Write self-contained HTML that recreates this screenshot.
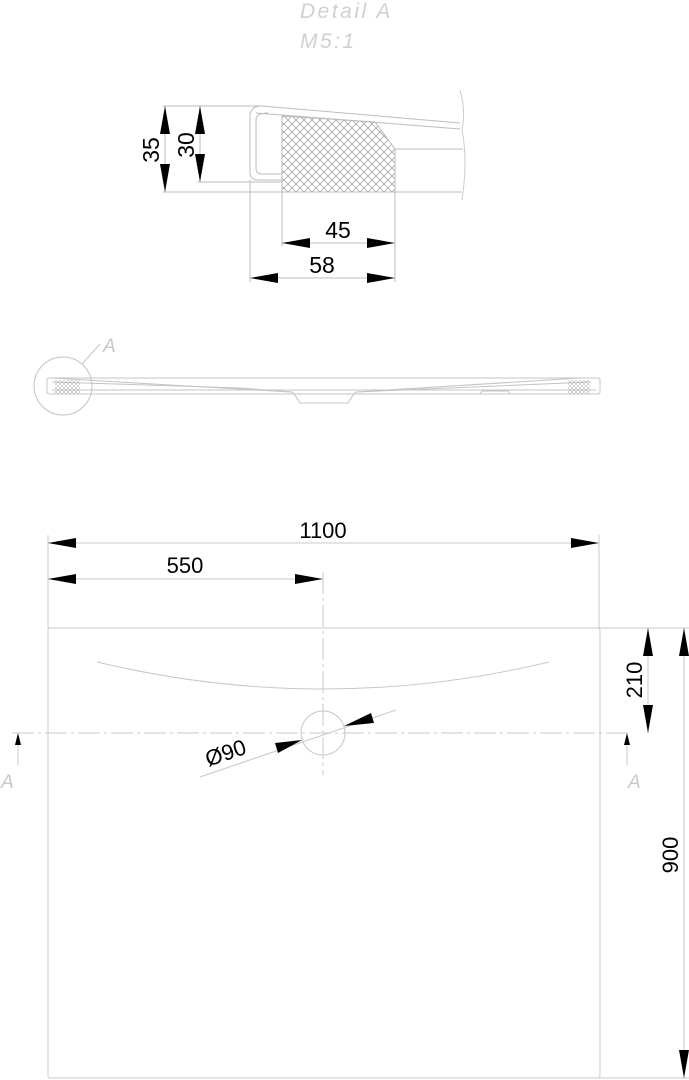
<!DOCTYPE html>
<html><head><meta charset="utf-8"><style>
html,body{margin:0;padding:0;background:#fff;}
svg{display:block;}
text{font-family:"Liberation Sans",sans-serif;}
</style></head><body>
<svg width="689" height="1080" viewBox="0 0 689 1080" xmlns="http://www.w3.org/2000/svg">
<defs>
<pattern id="h" width="8" height="8" patternUnits="userSpaceOnUse">
<path d="M0 0L8 8M8 0L0 8" stroke="#9a9a9a" stroke-width="0.7"/>
</pattern>
<pattern id="h2" width="4" height="4" patternUnits="userSpaceOnUse">
<path d="M0 0L4 4M4 0L0 4" stroke="#aaa" stroke-width="0.5"/>
</pattern>
</defs>
<text x="300" y="18" font-size="21" font-style="italic" fill="#d0d0d0" letter-spacing="2.5">Detail  A</text>
<text x="300" y="48" font-size="21" font-style="italic" fill="#d0d0d0" letter-spacing="2.5">M5:1</text>

<!-- detail A -->
<g fill="none" stroke="#bdbdbd" stroke-width="1">
<line x1="163" y1="106" x2="262" y2="106"/>
<line x1="163" y1="192" x2="462" y2="192"/>
<line x1="198" y1="182" x2="282" y2="182"/>
<path d="M262 106 L460 123 M256 113 L460 129"/>
<path d="M262 106 Q250 106 250 116 L250 172 Q250 180 258 180 L282 180"/>
<path d="M268 113 Q256 113 256 120 L256 168 Q256 174 262 174 L282 174"/>
<line x1="395" y1="149" x2="463" y2="149"/>
<path d="M460 90 Q466 110 462 130 Q468 160 462 200" stroke="#ccc"/>
<line x1="250" y1="180" x2="250" y2="282"/>
<line x1="282" y1="192" x2="282" y2="246"/>
<line x1="395" y1="192" x2="395" y2="282"/>
<line x1="165" y1="106" x2="165" y2="192"/>
<line x1="200" y1="106" x2="200" y2="182"/>
<line x1="282" y1="243" x2="395" y2="243"/>
<line x1="250" y1="278" x2="395" y2="278"/>
</g>
<path d="M282 116 L375 122 L395 149 L395 192 L282 192 Z" fill="url(#h)" stroke="#bbb" stroke-width="1"/>
<g fill="#000">
<polygon points="165,106 160,134 170,134"/><polygon points="165,192 160,164 170,164"/>
<polygon points="200,106 195,134 205,134"/><polygon points="200,182 195,154 205,154"/>
<polygon points="282,243 310,238 310,248"/><polygon points="395,243 367,238 367,248"/>
<polygon points="250,278 278,273 278,283"/><polygon points="395,278 367,273 367,283"/>
</g>
<text x="0" y="0" font-size="23" transform="translate(159,150) rotate(-90)" text-anchor="middle">35</text>
<text x="0" y="0" font-size="23" transform="translate(194,145) rotate(-90)" text-anchor="middle">30</text>
<text x="338" y="238" font-size="23" text-anchor="middle">45</text>
<text x="322" y="273" font-size="23" text-anchor="middle">58</text>

<!-- side view -->
<g fill="none" stroke="#c4c4c4" stroke-width="1">
<circle cx="63" cy="386" r="29"/>
<line x1="82" y1="364" x2="100" y2="344"/>
<rect x="47" y="378" width="553" height="16" rx="2"/>
<path d="M52 382 L240 388 L292 392 Q296 396 300 403 L348 403 Q352 396 356 392 L590 382"/>
<path d="M52 378 L170 385 L292 392 M356 392 L580 378"/>
<line x1="52" y1="390" x2="596" y2="390"/>
<path d="M480 394 L482 391 L508 391 L510 394"/>
</g>
<rect x="55" y="380" width="25" height="14" fill="url(#h2)"/>
<rect x="568" y="380" width="22" height="14" fill="url(#h2)"/>
<text x="103" y="352" font-size="19" font-style="italic" fill="#c8c8c8">A</text>

<!-- plan -->
<g fill="none" stroke="#c8c8c8" stroke-width="1">
<rect x="48" y="628" width="552" height="450" rx="2"/>
<line x1="48" y1="535" x2="48" y2="628"/>
<line x1="599" y1="535" x2="599" y2="628"/>
<line x1="48" y1="543" x2="599" y2="543"/>
<line x1="48" y1="579" x2="323" y2="579"/>
<line x1="323" y1="572" x2="323" y2="775" stroke-dasharray="22,4,3,4"/>
<line x1="12" y1="733" x2="630" y2="733" stroke-dasharray="22,4,3,4"/>
<path d="M97 662 Q323 716 549 662"/>
<circle cx="323" cy="733" r="22"/>
<line x1="200" y1="777" x2="396" y2="710"/>
<line x1="598" y1="628" x2="689" y2="628"/>
<line x1="598" y1="1078" x2="689" y2="1078"/>
<line x1="648" y1="628" x2="648" y2="733"/>
<line x1="684" y1="628" x2="684" y2="1078"/>
<line x1="18" y1="745" x2="18" y2="765"/>
<line x1="627" y1="745" x2="627" y2="765"/>
</g>
<g fill="#000">
<polygon points="48,543 76,538 76,548"/><polygon points="599,543 571,538 571,548"/>
<polygon points="48,579 76,574 76,584"/><polygon points="323,579 295,574 295,584"/>
<polygon points="302,740 275,743 278,753"/><polygon points="344,726 371,713 374,723"/>
<polygon points="648,628 643,656 653,656"/><polygon points="648,733 643,705 653,705"/>
<polygon points="684,628 679,656 689,656"/><polygon points="684,1078 679,1050 689,1050"/>
<polygon points="18,733 15,745 21,745"/><polygon points="627,733 624,745 630,745"/>
</g>
<text x="323" y="538" font-size="22" text-anchor="middle">1100</text>
<text x="185" y="573" font-size="22" text-anchor="middle">550</text>
<text x="0" y="0" font-size="22" transform="translate(228,760) rotate(-19)" text-anchor="middle">Ø90</text>
<text x="0" y="0" font-size="22" transform="translate(642,680) rotate(-90)" text-anchor="middle">210</text>
<text x="0" y="0" font-size="22" transform="translate(678,855) rotate(-90)" text-anchor="middle">900</text>
<text x="1" y="788" font-size="19" font-style="italic" fill="#c8c8c8">A</text>
<text x="628" y="788" font-size="19" font-style="italic" fill="#c8c8c8">A</text>
</svg>
</body></html>
